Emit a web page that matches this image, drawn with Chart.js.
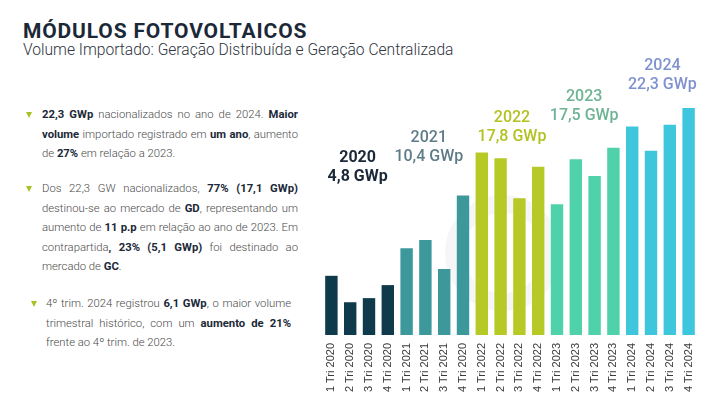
<!DOCTYPE html>
<html lang="pt">
<head>
  <meta charset="UTF-8" />
  <title>Módulos Fotovoltaicos</title>
  <script src="https://cdn.jsdelivr.net/npm/chart.js"></script>
  <style>
    html, body { margin: 0; padding: 0; background: #fff; }
    body { width: 710px; height: 393px; position: relative; overflow: hidden; font-family: Roboto, "Noto Sans", sans-serif; }
    h1 { position: absolute; left: 23px; top: 20px; margin: 0; font-size: 21px; line-height: 22px; font-weight: 700; color: #1b2838; letter-spacing: 0.85px; }
    .sub { position: absolute; left: 23px; top: 41px; font-size: 15.6px; font-weight: 300; color: #2e3440; }
    .txt { position: absolute; font-size: 11.3px; font-weight: 300; color: #4a4a4a; line-height: 19.5px; text-align: justify; }
    .txt b { font-weight: 700; color: #1b2838; }
    .txt::before { content: ""; position: absolute; left: -16px; top: 7px; border-left: 3px solid transparent; border-right: 3px solid transparent; border-top: 6px solid #a8c224; }
    #p1 { left: 42px; top: 105px; width: 256px; }
    #p2 { left: 42px; top: 179px; width: 256px; }
    #p3 { left: 46px; top: 294px; width: 245px; }
    #p3::before { left: -15px; }
    .ring { position: absolute; left: 445px; top: 195px; width: 80px; height: 80px; border-radius: 50%; border: 18px solid rgba(0,0,0,0.035); }
    #wrap { position: absolute; left: 310px; top: 0; width: 400px; height: 393px; }
  </style>
</head>
<body>
  <h1>MÓDULOS FOTOVOLTAICOS</h1>
  <div class="sub">Volume Importado: Geração Distribuída e Geração Centralizada</div>

  <div class="txt" id="p1"><b>22,3 GWp</b> nacionalizados no ano de 2024. <b>Maior volume</b> importado registrado em <b>um ano</b>, aumento de <b>27%</b> em relação a 2023.</div>
  <div class="txt" id="p2">Dos 22,3 GW nacionalizados, <b>77% (17,1 GWp)</b> destinou-se ao mercado de <b>GD</b>, representando um aumento de <b>11 p.p</b> em relação ao ano de 2023. Em contrapartida<b>, 23% (5,1 GWp)</b> foi destinado ao mercado de <b>GC</b>.</div>
  <div class="txt" id="p3">4º trim. 2024 registrou <b>6,1 GWp</b>, o maior volume trimestral histórico, com um <b>aumento de 21%</b> frente ao 4º trim. de 2023.</div>

  <div class="ring"></div>
  <div id="wrap"><canvas id="chart" width="400" height="393"></canvas></div>

<script>
  // quarterly imports, GWp
  const quarters = [
    '1 Tri 2020', '2 Tri 2020', '3 Tri 2020', '4 Tri 2020',
    '1 Tri 2021', '2 Tri 2021', '3 Tri 2021', '4 Tri 2020',
    '1 Tri 2022', '2 Tri 2022', '3 Tri 2022', '4 Tri 2022',
    '1 Tri 2023', '2 Tri 2023', '3 Tri 2023', '4 Tri 2023',
    '1 Tri 2024', '2 Tri 2024', '3 Tri 2024', '4 Tri 2024'
  ];
  const volumes = [
    1.59, 0.88, 0.99, 1.34,
    2.33, 2.55, 1.77, 3.75,
    4.90, 4.75, 3.67, 4.52,
    3.51, 4.72, 4.27, 5.03,
    5.60, 4.95, 5.65, 6.10
  ];
  const years = ['2020', '2021', '2022', '2023', '2024'];
  const yearTotals = ['4,8 GWp', '10,4 GWp', '17,8 GWp', '17,5 GWp', '22,3 GWp'];

  const barColors = ['#0f3a4b', '#3c989b', '#b7c926', '#4fd1aa', '#3ec6dc'];
  const labelColors = ['#1b2838', '#5d7c88', '#b2c222', '#6fb395', '#7f92cf'];
  const labelLevels = [4.76, 5.29, 5.82, 6.38, 7.23]; // where each year label sits, in GWp
  const labelShift = [-2, -6, 2, -1, 2];

  const yearLabels = {
    id: 'yearLabels',
    afterDraw(chart) {
      const ctx = chart.ctx;
      const x = chart.scales.x, y = chart.scales.y;
      ctx.save();
      ctx.textAlign = 'center';
      ctx.textBaseline = 'middle';
      years.forEach((yr, i) => {
        const cx = (x.getPixelForValue(i * 4 + 1) + x.getPixelForValue(i * 4 + 2)) / 2 + labelShift[i];
        const cy = y.getPixelForValue(labelLevels[i]);
        ctx.fillStyle = labelColors[i];
        ctx.font = (i === 0 ? '700' : '500') + ' 16px Roboto';
        ctx.fillText(yr, cx, cy);
        ctx.fillText(yearTotals[i], cx, cy + 19);
      });
      ctx.restore();
    }
  };

  new Chart(document.getElementById('chart'), {
    type: 'bar',
    data: {
      labels: quarters,
      datasets: [{
        data: volumes,
        backgroundColor: volumes.map((v, i) => barColors[Math.floor(i / 4)]),
        barPercentage: 0.66,
        categoryPercentage: 1
      }]
    },
    options: {
      responsive: false,
      animation: false,
      layout: { padding: { top: 93, left: 12, right: 12, bottom: 0 } },
      plugins: { legend: { display: false }, tooltip: { enabled: false } },
      scales: {
        x: {
          grid: { display: false },
          border: { display: false },
          afterFit: s => { s.height = 58; },
          ticks: {
            minRotation: 90, maxRotation: 90, padding: 0,
            color: '#3a3a3a',
            font: { family: 'Liberation Sans', size: 11 }
          }
        },
        y: {
          display: false,
          min: 0, max: 6.5
        }
      }
    },
    plugins: [yearLabels]
  });
</script>
</body>
</html>
